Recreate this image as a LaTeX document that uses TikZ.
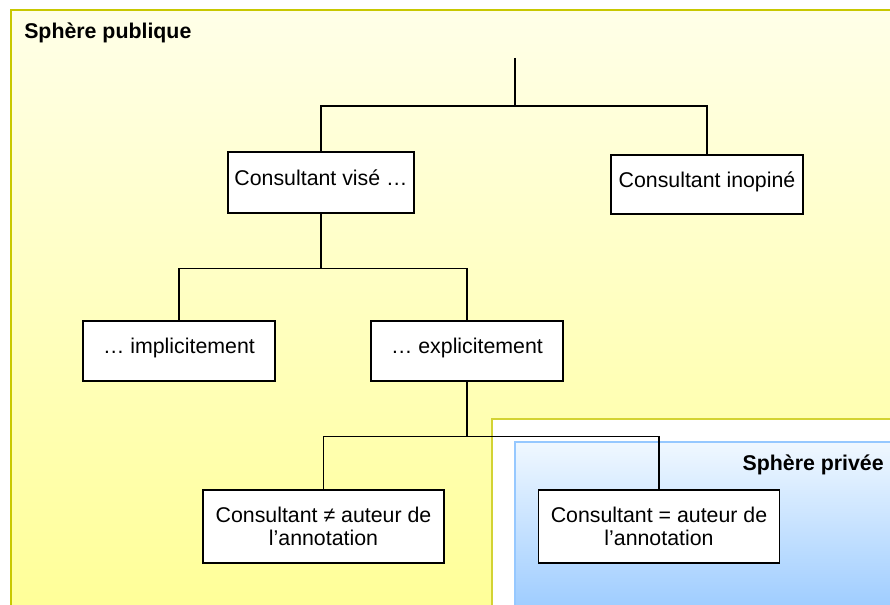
\documentclass[tikz,border=0pt]{standalone}
\usepackage{fontspec}
\setmainfont{Liberation Sans}
\usepackage{tikz}
\usepackage{xcolor}

\definecolor{pubtop}{RGB}{255,255,232}
\definecolor{pubbot}{RGB}{255,255,150}
\definecolor{publine}{RGB}{200,200,0}
\definecolor{privtop}{RGB}{240,248,255}
\definecolor{privbot}{RGB}{150,200,255}
\definecolor{privline}{RGB}{150,200,255}

\begin{document}
\begin{tikzpicture}[x=0.75pt, y=-0.75pt,
        every node/.style={font=\fontsize{16}{17.25}\selectfont},
        box/.style={draw=black, fill=white, line width=1.1pt, align=center,
            inner sep=0pt, minimum width=144pt, minimum height=45pt,
            text height=11.6pt, text depth=7.6pt},
        wide/.style={box, minimum width=180.75pt, minimum height=54.75pt,
            text height=, text depth=},
        link/.style={black, line width=1.1pt}]
        \useasboundingbox (0,0) rectangle (890,605);
        \clip (0,0) rectangle (890,605);
        
        % spheres
        \draw[publine, line width=1.5pt, top color=pubtop, bottom color=pubbot] (11,10) rectangle (910,625);
        \draw[publine!80!white, line width=1.2pt, fill=white] (492,419) rectangle (910,625);
        \draw[privline, line width=1pt, top color=privtop, bottom color=privbot] (515,442) rectangle (910,625);
        \node[anchor=west, inner sep=0pt, font=\fontsize{16}{17.25}\selectfont\bfseries] (pub) at (24,33) {Sphère publique};
        \node[anchor=east, inner sep=0pt, font=\fontsize{16}{17.25}\selectfont\bfseries] (priv) at (884,465) {Sphère privée};
        
        % boxes
        \node[box, minimum width=139.5pt, minimum height=45.75pt] (vise) at (321,182.5) {Consultant visé …};
        \node[box, minimum height=44.25pt] (inop) at (707,184.5) {Consultant inopiné};
        \node[box] (impl) at (179,351) {… implicitement};
        \node[box] (expl) at (467,351) {… explicitement};
        \node[wide] (diff) at (323.5,526.5) {Consultant ≠ auteur de\\l’annotation};
        \node[wide] (same) at (659,526.5) {Consultant = auteur de\\l’annotation};
        
        % tree
        \coordinate (root) at (515,58);
        \coordinate (fork) at (515,106);
        \draw[link] (root) -- (fork);
        \draw[link] (fork) -| (vise.north);
        \draw[link] (fork) -| (inop.north);
        \draw[link] (vise.south) -- ++(0,55) coordinate (fork2);
        \draw[link] (fork2) -| (impl.north);
        \draw[link] (fork2) -| (expl.north);
        \draw[link] (expl.south) -- ++(0,55) coordinate (fork3);
        \draw[link] (fork3) -| (diff.north);
        \draw[link] (fork3) -| (same.north);
    \end{tikzpicture}
\end{document}
